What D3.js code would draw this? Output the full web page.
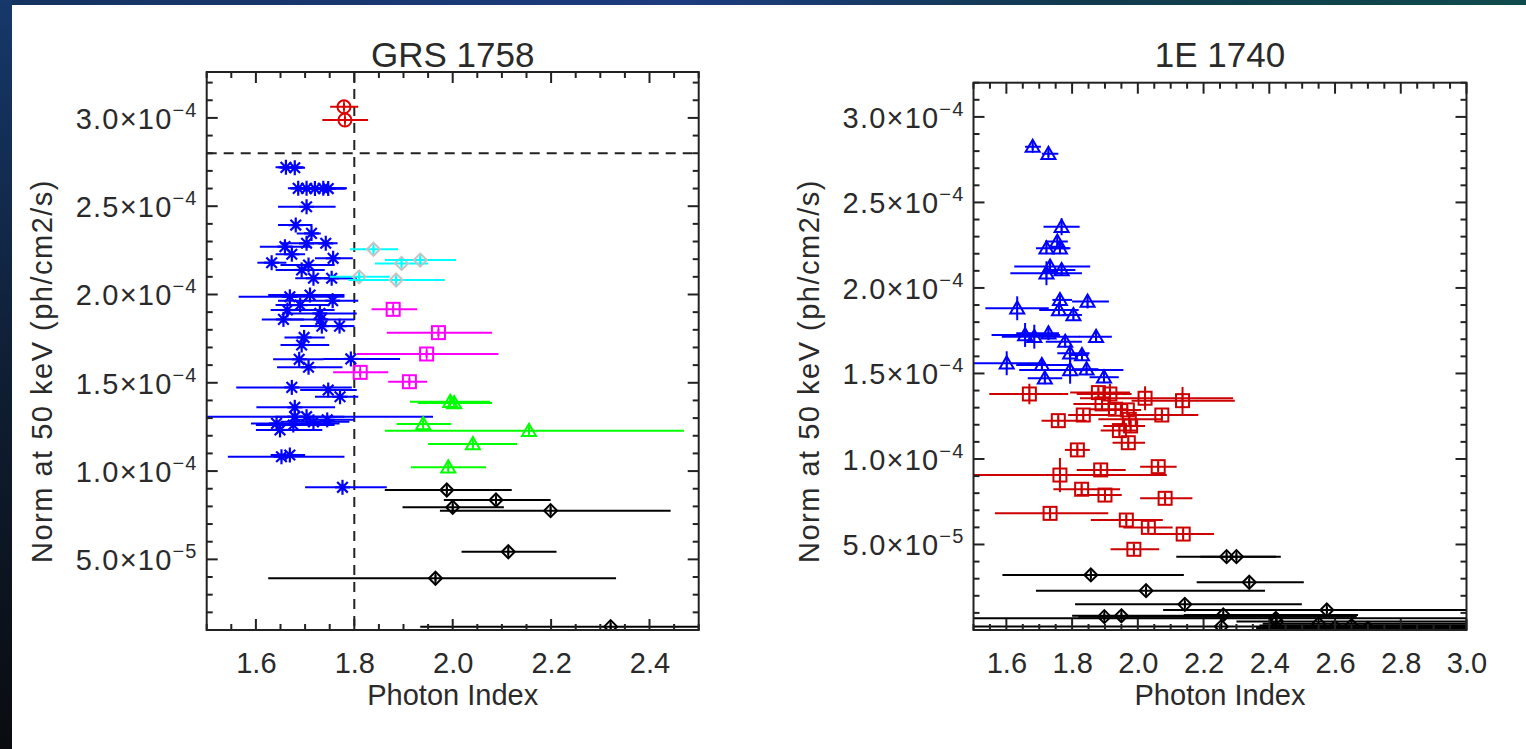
<!DOCTYPE html>
<html><head><meta charset="utf-8">
<script src="https://cdn.jsdelivr.net/npm/d3@7"></script>
<style>
body{margin:0;background:#fff;}
svg{display:block;}
text{font-family:"Liberation Sans",Arial,Helvetica,sans-serif;fill:#2a2a2a;}
</style>
</head><body><svg id="chart" width="1526" height="749"></svg>
<script>
// ---------------- DATA (y values in units of 1e-4 ph/cm2/s) ----------------
// rows: [photonIndex, norm, indexLow, indexHigh, normErr]
const grsBlue = [
 [1.661,2.720,1.640,1.697],[1.679,2.718,1.650,1.700],
 [1.686,2.601,1.665,1.745],[1.703,2.601,1.670,1.760],[1.720,2.600,1.680,1.783],[1.737,2.601,1.700,1.785],[1.747,2.600,1.715,1.780],
 [1.703,2.497,1.645,1.762],[1.681,2.393,1.645,1.715],[1.713,2.346,1.683,1.732],[1.703,2.290,1.650,1.740],
 [1.742,2.290,1.715,1.766],[1.659,2.271,1.608,1.713],[1.673,2.228,1.640,1.700],[1.757,2.205,1.720,1.797],
 [1.632,2.180,1.603,1.662],[1.707,2.167,1.650,1.760],[1.693,2.139,1.640,1.740],[1.717,2.092,1.680,1.805],
 [1.754,2.092,1.720,1.800],[1.669,1.987,1.565,1.780],[1.710,1.997,1.625,1.780],[1.756,1.965,1.645,1.808],
 [1.690,1.940,1.640,1.750],[1.664,1.912,1.630,1.760],[1.730,1.893,1.660,1.805],[1.656,1.859,1.612,1.698],
 [1.732,1.859,1.670,1.800],[1.734,1.821,1.690,1.800],[1.770,1.821,1.740,1.800],[1.698,1.757,1.658,1.740],
 [1.693,1.714,1.650,1.749],[1.688,1.633,1.635,1.738],[1.793,1.635,1.737,1.893],[1.707,1.588,1.643,1.776],
 [1.673,1.474,1.560,1.795],[1.747,1.459,1.690,1.805],[1.771,1.421,1.720,1.808],[1.679,1.361,1.601,1.761],
 [1.679,1.308,1.500,1.960],[1.703,1.308,1.640,1.780],[1.642,1.270,1.590,1.770],[1.676,1.261,1.600,1.760],
 [1.717,1.279,1.650,1.790],[1.745,1.290,1.680,1.800],[1.649,1.233,1.600,1.735],[1.652,1.081,1.543,1.780],
 [1.669,1.091,1.630,1.700],[1.776,0.908,1.700,1.866]
];
const grsCyan = [
 [1.839,2.256,1.791,1.889],[1.896,2.176,1.842,1.950],[1.934,2.195,1.862,2.007],
 [1.810,2.100,1.750,1.872],[1.885,2.082,1.788,1.984]
];
const grsMagenta = [
 [1.879,1.916,1.835,1.928],[1.971,1.784,1.866,2.080],[1.947,1.663,1.805,2.093],
 [1.812,1.559,1.757,1.869],[1.912,1.506,1.869,1.948]
];
const grsGreen = [
 [1.995,1.393,1.913,2.076],[2.003,1.385,1.929,2.080],[1.940,1.266,1.886,1.997],
 [2.155,1.228,1.862,2.470],[2.041,1.153,1.950,2.131],[1.991,1.021,1.915,2.068]
];
const grsBlack = [
 [1.988,0.893,1.862,2.120],[2.088,0.836,1.982,2.199],[2.000,0.795,1.898,2.104],
 [2.199,0.776,1.974,2.443],[2.113,0.543,2.018,2.211],[1.965,0.393,1.625,2.332],[2.321,0.119,1.934,2.600]
];
const grsRed = [
 [1.779,3.063,1.751,1.808,0.02],[1.781,2.988,1.735,1.828,0.02]
];
const e1740Blue = [
 [1.680,2.826,1.657,1.705,0.02],[1.728,2.784,1.708,1.758,0.02],[1.768,2.358,1.713,1.823,0.05],
 [1.755,2.271,1.718,1.787,0.03],[1.722,2.232,1.690,1.795,0.03],[1.763,2.232,1.730,1.790,0.03],
 [1.733,2.125,1.624,1.855,0.04],[1.768,2.105,1.715,1.810,0.03],[1.722,2.086,1.612,1.830,0.07],
 [1.633,1.881,1.536,1.729,0.07],[1.763,1.930,1.740,1.800,0.03],[1.760,1.871,1.700,1.820,0.03],
 [1.804,1.842,1.770,1.830,0.03],[1.847,1.920,1.800,1.912,0.04],[1.657,1.725,1.555,1.763,0.07],
 [1.685,1.715,1.586,1.824,0.07],[1.728,1.735,1.630,1.760,0.04],[1.779,1.686,1.720,1.830,0.03],
 [1.873,1.715,1.822,1.921,0.03],[1.794,1.618,1.755,1.853,0.05],[1.830,1.608,1.790,1.850,0.03],
 [1.601,1.560,1.500,1.718,0.07],[1.708,1.550,1.630,1.790,0.03],[1.794,1.520,1.639,1.956,0.08],
 [1.844,1.525,1.800,1.880,0.03],[1.717,1.472,1.665,1.770,0.03],[1.897,1.478,1.853,1.942,0.03]
];
const e1740Red = [
 [1.670,1.380,1.548,1.788,0.06],[1.880,1.388,1.794,1.976,0.03],[1.915,1.380,1.814,1.981,0.06],
 [2.022,1.355,1.824,2.290,0.07],[2.136,1.341,1.981,2.295,0.08],[1.891,1.322,1.804,1.966,0.03],
 [1.932,1.291,1.854,1.971,0.03],[1.968,1.287,1.900,2.010,0.03],[1.834,1.257,1.788,1.930,0.03],
 [2.073,1.257,1.971,2.184,0.03],[1.758,1.224,1.707,1.844,0.03],[1.974,1.232,1.880,2.073,0.03],
 [1.978,1.193,1.895,2.022,0.03],[1.944,1.166,1.887,1.997,0.03],[1.971,1.095,1.923,2.022,0.03],
 [1.816,1.053,1.778,1.854,0.03],[1.763,0.906,1.500,2.088,0.10],[1.887,0.936,1.814,1.963,0.03],
 [2.062,0.955,2.007,2.118,0.03],[1.829,0.823,1.743,1.946,0.03],[1.900,0.789,1.814,1.951,0.03],
 [2.083,0.770,2.007,2.166,0.03],[1.733,0.682,1.565,1.910,0.03],[1.965,0.643,1.857,2.076,0.03],
 [2.032,0.600,1.956,2.106,0.03],[2.138,0.561,2.037,2.232,0.03],[1.988,0.472,1.917,2.065,0.03]
];
const e1740Black = [
 [2.270,0.429,2.117,2.435,0.02],[2.300,0.429,2.190,2.420,0.02],[1.857,0.322,1.588,2.140,0.02],
 [2.339,0.279,2.179,2.505,0.02],[2.025,0.230,1.690,2.387,0.02],[2.143,0.150,1.809,2.499,0.02],
 [2.575,0.117,2.077,3.100,0.02],[1.898,0.078,1.819,2.666,0.02],[1.950,0.083,1.800,2.600,0.02],
 [2.260,0.088,2.140,2.670,0.02],[2.422,0.049,2.300,3.100,0.02],[2.254,0.020,1.450,3.100,0.02],
 [2.420,0.068,1.450,3.100,0.00],[2.600,0.016,2.360,3.100,0.01],[2.650,0.026,2.370,3.100,0.01],
 [2.550,0.036,2.380,3.100,0.01],[2.700,0.010,2.360,3.100,0.01]
];
const grsXTicks = [1.6,1.8,2.0,2.2,2.4];
const e1740XTicks = [1.6,1.8,2.0,2.2,2.4,2.6,2.8,3.0];
const yTickValues = [0.5,1.0,1.5,2.0,2.5,3.0];
const yTickMantissa = ["5.0","1.0","1.5","2.0","2.5","3.0"];
const yTickExponent = ["−5","−4","−4","−4","−4","−4"];
const grsRefIndex = 1.8;   // dashed vertical line
const grsRefNorm = 2.8;    // dashed horizontal line
const titles = ["GRS 1758","1E 1740"];
const xTitle = "Photon Index";
const yTitle = "Norm at 50 keV (ph/cm2/s)";

// ---------------- DRAW ----------------
const svg = d3.select("#chart");
const defs = svg.append("defs");
const gt = defs.append("linearGradient").attr("id","gtop").attr("x1","0").attr("x2","1").attr("y1","0").attr("y2","0");
gt.append("stop").attr("offset","0").attr("stop-color","#15335f");
gt.append("stop").attr("offset","0.45").attr("stop-color","#1d3b7e");
gt.append("stop").attr("offset","0.7").attr("stop-color","#123a4e");
gt.append("stop").attr("offset","1").attr("stop-color","#0f4a4c");
const gl = defs.append("linearGradient").attr("id","gleft").attr("x1","0").attr("x2","0").attr("y1","0").attr("y2","1");
gl.append("stop").attr("offset","0").attr("stop-color","#16386a");
gl.append("stop").attr("offset","0.5").attr("stop-color","#0f1e33");
gl.append("stop").attr("offset","1").attr("stop-color","#0a0c10");
svg.append("rect").attr("x",0).attr("y",0).attr("width",1526).attr("height",749).attr("fill","#fff");
svg.append("rect").attr("x",0).attr("y",0).attr("width",1526).attr("height",5).attr("fill","url(#gtop)");
svg.append("rect").attr("x",0).attr("y",0).attr("width",12).attr("height",749).attr("fill","url(#gleft)");

const INK = "#222";

function marker(g, type, cx, cy, color) {
  const sw = 2;
  if (type === "asterisk") {
    const r = 7.5;
    [0,45,90,135].forEach(a => {
      const dx = r*Math.cos(a*Math.PI/180), dy = r*Math.sin(a*Math.PI/180);
      g.append("line").attr("x1",cx-dx).attr("y1",cy-dy).attr("x2",cx+dx).attr("y2",cy+dy)
        .attr("stroke",color).attr("stroke-width",2.2);
    });
    return;
  }
  let path;
  const r = 6.5;
  if (type === "circle") {
    g.append("circle").attr("cx",cx).attr("cy",cy).attr("r",r).attr("fill","none").attr("stroke",color).attr("stroke-width",sw);
  } else if (type === "square") {
    g.append("rect").attr("x",cx-r).attr("y",cy-r).attr("width",2*r).attr("height",2*r).attr("fill","none").attr("stroke",color).attr("stroke-width",sw);
  } else if (type === "diamond") {
    path = `M${cx},${cy-r}L${cx+r},${cy}L${cx},${cy+r}L${cx-r},${cy}Z`;
    g.append("path").attr("d",path).attr("fill","none").attr("stroke",color).attr("stroke-width",sw);
  } else if (type === "triangle") {
    path = `M${cx},${cy-r-0.5}L${cx+r+0.5},${cy+r*0.8}L${cx-r-0.5},${cy+r*0.8}Z`;
    g.append("path").attr("d",path).attr("fill","none").attr("stroke",color).attr("stroke-width",sw);
  }
}

function drawPanel(cfg) {
  const {x0,x1,y0,y1,xDomain,yDomain,xTicks,series,title} = cfg;
  const x = d3.scaleLinear().domain(xDomain).range([x0,x1]);
  const y = d3.scaleLinear().domain(yDomain).range([y1,y0]);
  const g = svg.append("g");
  const clipId = "clip" + Math.round(x0);
  defs.append("clipPath").attr("id",clipId).append("rect").attr("x",x0).attr("y",y0).attr("width",x1-x0).attr("height",y1-y0);
  const plot = g.append("g").attr("clip-path",`url(#${clipId})`);

  if (cfg.refX !== undefined) {
    plot.append("line").attr("x1",x(cfg.refX)).attr("x2",x(cfg.refX)).attr("y1",y0).attr("y2",y1)
      .attr("stroke",INK).attr("stroke-width",2).attr("stroke-dasharray","10,7");
    plot.append("line").attr("x1",x0).attr("x2",x1).attr("y1",y(cfg.refY)).attr("y2",y(cfg.refY))
      .attr("stroke",INK).attr("stroke-width",2).attr("stroke-dasharray","10,7");
  }

  series.forEach(s => {
    s.rows.forEach(r => {
      const [px,py,lo,hi,ye] = r;
      const err = ye === undefined ? 0.02 : ye;
      const cx = x(px), cy = y(py);
      const pg = plot.append("g");
      pg.append("line").attr("x1",x(lo)).attr("x2",x(hi)).attr("y1",cy).attr("y2",cy)
        .attr("stroke",s.color).attr("stroke-width",2);
      if (err > 0) {
        pg.append("line").attr("x1",cx).attr("x2",cx).attr("y1",y(py-err)).attr("y2",y(py+err))
          .attr("stroke",s.color).attr("stroke-width",2);
      }
      if (s.marker !== "asterisk") {
        pg.append("line").attr("x1",cx).attr("x2",cx).attr("y1",cy-6).attr("y2",cy+6)
          .attr("stroke",s.color).attr("stroke-width",1.6);
      }
      marker(pg, s.marker, cx, cy, s.markerColor || s.color);
    });
  });

  // box
  g.append("rect").attr("x",x0).attr("y",y0).attr("width",x1-x0).attr("height",y1-y0)
    .attr("fill","none").attr("stroke",INK).attr("stroke-width",2);

  // ticks
  const near = (a,b) => Math.abs(a-b) < 1e-6;
  const xMinor = d3.range(Math.round(xDomain[0]*20), Math.round(xDomain[1]*20)+1).map(k => k/20);
  xMinor.forEach(v => {
    const major = near(Math.round(v*10)/10, v) && near((Math.round(v*10))%2, 0);
    const len = major ? 11 : 6;
    g.append("line").attr("x1",x(v)).attr("x2",x(v)).attr("y1",y1).attr("y2",y1-len).attr("stroke",INK).attr("stroke-width",2);
    g.append("line").attr("x1",x(v)).attr("x2",x(v)).attr("y1",y0).attr("y2",y0+len).attr("stroke",INK).attr("stroke-width",2);
  });
  const yMinor = d3.range(Math.ceil(yDomain[0]*10-1e-6), Math.floor(yDomain[1]*10+1e-6)+1).map(k => k/10);
  yMinor.forEach(v => {
    const major = near(v*2, Math.round(v*2));
    const len = major ? 11 : 6;
    g.append("line").attr("y1",y(v)).attr("y2",y(v)).attr("x1",x0).attr("x2",x0+len).attr("stroke",INK).attr("stroke-width",2);
    g.append("line").attr("y1",y(v)).attr("y2",y(v)).attr("x1",x1).attr("x2",x1-len).attr("stroke",INK).attr("stroke-width",2);
  });

  // tick labels
  const xAxis = d3.axisBottom(x).tickValues(xTicks).tickFormat(d3.format(".1f")).tickSize(0).tickPadding(0);
  const xa = g.append("g").attr("transform",`translate(0,${y1})`).call(xAxis);
  xa.select(".domain").remove();
  xa.selectAll("text").attr("y",43).attr("dy",null).style("font-size","29px")
    .style("font-family",'"Liberation Sans",Arial,sans-serif').attr("fill","#2a2a2a");

  yTickValues.forEach((v,i) => {
    const t = g.append("text").attr("x",x0-9).attr("y",y(v)+11).attr("text-anchor","end")
      .style("font-size","29px").style("letter-spacing","1.2px");
    t.append("tspan").text(yTickMantissa[i] + "×10");
    t.append("tspan").attr("dy",-12).style("font-size","20px").text(yTickExponent[i]);
  });

  g.append("text").attr("x",(x0+x1)/2).attr("y",705).attr("text-anchor","middle").style("font-size","29px").text(xTitle);
  g.append("text").attr("transform",`translate(${x0-155},371) rotate(-90)`).attr("text-anchor","middle")
    .style("font-size","29px").style("letter-spacing","1.5px").text(yTitle);
  g.append("text").attr("x",(x0+x1)/2).attr("y",67).attr("text-anchor","middle").style("font-size","35px").text(title);
}

drawPanel({
  x0:206.7, x1:698.7, y0:72, y1:630, xDomain:[1.5,2.5], yDomain:[0.1,3.26], xTicks:grsXTicks,
  title:titles[0], refX:grsRefIndex, refY:grsRefNorm,
  series:[
    {rows:grsBlue, color:"#0000ff", marker:"asterisk"},
    {rows:grsCyan, color:"#00ffff", marker:"diamond", markerColor:"#c4c4c4"},
    {rows:grsMagenta, color:"#ff00ff", marker:"square"},
    {rows:grsGreen, color:"#00ff00", marker:"triangle"},
    {rows:grsBlack, color:"#000000", marker:"diamond"},
    {rows:grsRed, color:"#dd0000", marker:"circle"}
  ]
});
drawPanel({
  x0:973.5, x1:1466.5, y0:82.7, y1:630, xDomain:[1.5,3.0], yDomain:[0,3.2], xTicks:e1740XTicks,
  title:titles[1],
  series:[
    {rows:e1740Blue, color:"#0000ff", marker:"triangle"},
    {rows:e1740Red, color:"#cc0000", marker:"square"},
    {rows:e1740Black, color:"#000000", marker:"diamond"}
  ]
});
</script></body></html>
